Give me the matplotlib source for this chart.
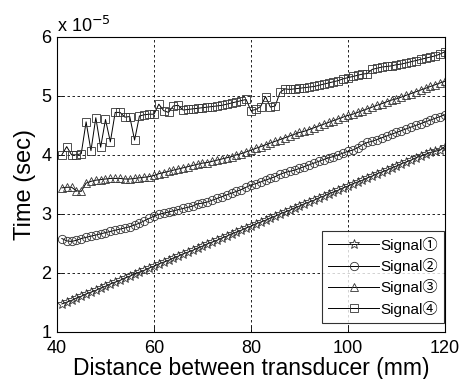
import matplotlib
matplotlib.use("Agg")
import matplotlib.pyplot as plt

plt.rcParams['font.family'] = ['Liberation Sans', 'Noto Sans CJK SC', 'DejaVu Sans']

# ---------------------------------------------------------------
# data (time in units of 1e-5 s)
# ---------------------------------------------------------------
distance = list(range(41, 121))

signal1 = [1.47, 1.50, 1.53, 1.57, 1.60, 1.64, 1.67, 1.70, 1.74, 1.77,
           1.81, 1.84, 1.87, 1.91, 1.94, 1.98, 2.01, 2.04, 2.08, 2.11,
           2.15, 2.18, 2.21, 2.25, 2.28, 2.32, 2.35, 2.38, 2.42, 2.45,
           2.49, 2.52, 2.55, 2.59, 2.62, 2.66, 2.69, 2.72, 2.76, 2.79,
           2.83, 2.86, 2.89, 2.93, 2.96, 3.00, 3.03, 3.06, 3.10, 3.13,
           3.17, 3.20, 3.23, 3.27, 3.30, 3.34, 3.37, 3.40, 3.44, 3.47,
           3.51, 3.54, 3.57, 3.61, 3.64, 3.68, 3.71, 3.74, 3.78, 3.81,
           3.85, 3.88, 3.91, 3.95, 3.98, 4.01, 4.04, 4.06, 4.08, 4.14]

signal2 = [2.58, 2.54, 2.53, 2.55, 2.58, 2.60, 2.62, 2.64, 2.66, 2.68,
           2.70, 2.72, 2.74, 2.76, 2.78, 2.81, 2.84, 2.88, 2.92, 2.96,
           2.99, 3.01, 3.03, 3.05, 3.07, 3.09, 3.11, 3.13, 3.17, 3.18,
           3.20, 3.23, 3.26, 3.29, 3.32, 3.35, 3.38, 3.41, 3.45, 3.49,
           3.51, 3.54, 3.57, 3.60, 3.63, 3.67, 3.70, 3.72, 3.74, 3.77,
           3.80, 3.83, 3.86, 3.89, 3.92, 3.95, 3.97, 4.00, 4.03, 4.06,
           4.08, 4.12, 4.17, 4.21, 4.23, 4.26, 4.29, 4.32, 4.35, 4.38,
           4.41, 4.44, 4.47, 4.50, 4.53, 4.56, 4.59, 4.62, 4.65, 4.68]

signal3 = [3.44, 3.45, 3.45, 3.39, 3.38, 3.52, 3.55, 3.57, 3.58, 3.59,
           3.60, 3.60, 3.60, 3.59, 3.59, 3.60, 3.61, 3.62, 3.63, 3.65,
           3.68, 3.70, 3.72, 3.74, 3.76, 3.78, 3.80, 3.82, 3.84, 3.86,
           3.87, 3.89, 3.91, 3.93, 3.95, 3.97, 4.00, 4.02, 4.05, 4.08,
           4.11, 4.14, 4.17, 4.20, 4.23, 4.26, 4.29, 4.32, 4.35, 4.38,
           4.40, 4.43, 4.46, 4.49, 4.52, 4.55, 4.58, 4.61, 4.64, 4.67,
           4.69, 4.72, 4.75, 4.78, 4.81, 4.84, 4.87, 4.90, 4.93, 4.95,
           4.98, 5.01, 5.04, 5.07, 5.10, 5.13, 5.16, 5.19, 5.22, 5.25]

signal4 = [4.00, 4.14, 4.00, 4.00, 4.02, 4.56, 4.07, 4.63, 4.13, 4.60,
           4.22, 4.72, 4.72, 4.64, 4.65, 4.25, 4.66, 4.68, 4.69, 4.69,
           4.86, 4.75, 4.72, 4.83, 4.84, 4.76, 4.77, 4.78, 4.79, 4.80,
           4.81, 4.82, 4.83, 4.84, 4.86, 4.88, 4.90, 4.92, 4.94, 4.75,
           4.77, 4.82, 4.99, 4.81, 4.83, 5.06, 5.12, 5.11, 5.12, 5.13,
           5.14, 5.15, 5.16, 5.18, 5.20, 5.22, 5.24, 5.26, 5.29, 5.31,
           5.33, 5.35, 5.37, 5.38, 5.45, 5.47, 5.49, 5.50, 5.51, 5.53,
           5.54, 5.56, 5.58, 5.60, 5.62, 5.64, 5.66, 5.68, 5.71, 5.75]

labels = ["Signal\u2460", "Signal\u2461", "Signal\u2462", "Signal\u2463"]
markers = ["*", "o", "^", "s"]

# ---------------------------------------------------------------
# plot
# ---------------------------------------------------------------
fig = plt.figure(figsize=(4.62, 3.79), dpi=100)
ax = fig.add_axes([0.1234, 0.125, 0.8396, 0.7774])

for ys, m, lab in zip([signal1, signal2, signal3, signal4], markers, labels):
    ax.plot(distance, ys, color='black', lw=0.7, marker=m,
            markersize=7 if m == '*' else 6, markerfacecolor='none',
            markeredgecolor='#333333', markeredgewidth=0.6, label=lab)

ax.set_xlim(40, 120)
ax.set_ylim(1, 6)
ax.set_xticks([40, 60, 80, 100, 120])
ax.set_yticks([1, 2, 3, 4, 5, 6])
ax.tick_params(direction='in', labelsize=13, length=4, width=0.6)
ax.tick_params(axis='x', pad=6)
ax.tick_params(axis='y', pad=4)
ax.grid(True, color='black', linestyle=(0, (3, 3)), linewidth=0.6)
for sp in ax.spines.values():
    sp.set_linewidth(0.8)

ax.set_xlabel("Distance between transducer (mm)", fontsize=16.5, labelpad=0)
ax.set_ylabel("Time (sec)", fontsize=17, labelpad=4)
ax.text(0.0, 1.005, r"x 10$^{-5}$", transform=ax.transAxes, fontsize=13,
        ha='left', va='bottom')

leg = ax.legend(loc='lower right', bbox_to_anchor=(0.998, 0.03), fontsize=11,
                frameon=True, fancybox=False, edgecolor='black',
                borderaxespad=0.0, handlelength=3.3, handletextpad=0.1,
                labelspacing=0.35, borderpad=0.4)
leg.get_frame().set_linewidth(0.8)

fig.savefig("out.png", dpi=100)
